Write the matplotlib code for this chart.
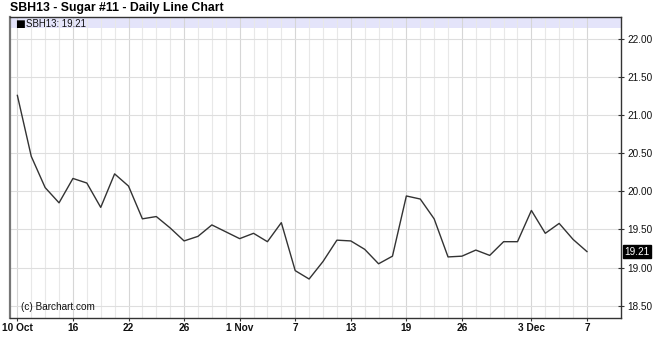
import matplotlib
matplotlib.use("Agg")
import matplotlib.pyplot as plt
import numpy as np

plt.rcParams['font.family'] = ['Liberation Sans', 'DejaVu Sans']

# ---- data ----
dates = ["2012-10-10", "2012-10-11", "2012-10-12", "2012-10-15", "2012-10-16",
         "2012-10-17", "2012-10-18", "2012-10-19", "2012-10-22", "2012-10-23",
         "2012-10-24", "2012-10-25", "2012-10-26", "2012-10-29", "2012-10-30",
         "2012-10-31", "2012-11-01", "2012-11-02", "2012-11-05", "2012-11-06",
         "2012-11-07", "2012-11-08", "2012-11-09", "2012-11-12", "2012-11-13",
         "2012-11-14", "2012-11-15", "2012-11-16", "2012-11-19", "2012-11-20",
         "2012-11-21", "2012-11-23", "2012-11-26", "2012-11-27", "2012-11-28",
         "2012-11-29", "2012-11-30", "2012-12-03", "2012-12-04", "2012-12-05",
         "2012-12-06", "2012-12-07"]
close = [21.26, 20.46, 20.05, 19.85, 20.17, 20.11, 19.79, 20.23, 20.07, 19.64,
         19.67, 19.52, 19.35, 19.41, 19.56, 19.47, 19.38, 19.45, 19.34, 19.59,
         18.96, 18.85, 19.08, 19.36, 19.35, 19.24, 19.05, 19.15, 19.94, 19.90,
         19.64, 19.14, 19.15, 19.23, 19.16, 19.34, 19.34, 19.75, 19.45, 19.58,
         19.37, 19.21]
tick_dates = ["2012-10-10", "2012-10-16", "2012-10-22", "2012-10-26", "2012-11-01",
              "2012-11-07", "2012-11-13", "2012-11-19", "2012-11-26", "2012-12-03",
              "2012-12-07"]
tick_labels = ["10 Oct", "16", "22", "26", "1 Nov", "7", "13", "19", "26", "3 Dec", "7"]
y_ticks = [18.5, 19.0, 19.5, 20.0, 20.5, 21.0, 21.5, 22.0]
symbol = "SBH13"
title = "SBH13 - Sugar #11 - Daily Line Chart"

# ---- figure ----
W, H = 661, 353
fig = plt.figure(figsize=(W / 100, H / 100), dpi=100)
ax = fig.add_axes([10 / W, 1 - 317.5 / H, (621 - 10) / W, (317.5 - 17) / H])

x = np.arange(len(dates))
tick_pos = [dates.index(d) for d in tick_dates]

ax.set_xlim(-0.53, 43.45)
ax.set_ylim(18.345, 22.289)

# legend band
ax.axhspan(22.15, 23, color='#e4e4fa', zorder=0.5, lw=0)

# grid
for i in x:
    c = '#d6d6d6' if i in tick_pos else '#e8e8e8'
    ax.axvline(i, color=c, lw=0.8, zorder=1)
for yv in y_ticks:
    ax.axhline(yv, color='#dedede', lw=0.8, zorder=1)

ax.plot(x, close, color='#333333', lw=1.0, zorder=3)

# axes styling
for s in ax.spines.values():
    s.set_color('#333333')
    s.set_linewidth(1.0)
ax.spines['left'].set_color('#777777')
ax.spines['left'].set_linewidth(1.6)

ax.yaxis.tick_right()
ax.set_yticks(y_ticks)
ax.set_yticklabels([f"{v:.2f}" for v in y_ticks], fontsize=7.2, color='#111111')
ax.tick_params(axis='y', direction='inout', length=5, width=0.8, pad=2, color='#333333')

ax.set_xticks(tick_pos)
ax.set_xticklabels(tick_labels, fontsize=7.3, fontweight='bold', color='#111111')
ax.tick_params(axis='x', direction='out', length=2.5, width=0.8, pad=1.5, color='#333333')

# last value marker
last = close[-1]
ax.text(1.006, (last - 18.345) / (22.289 - 18.345), f"{last:.2f}", transform=ax.transAxes,
        fontsize=7.2, color='white', va='center', ha='left',
        bbox=dict(boxstyle='square,pad=0.12', facecolor='black', edgecolor='black'))

# legend text in band
ax.text(15 / W * W, 0, "", transform=None)
fig.text(15 / W, 1 - 23.7 / H, "\u25A0", fontsize=7.5, va='center', ha='left',
         color='black', family=['DejaVu Sans'])
fig.text(26 / W, 1 - 23.7 / H, f"{symbol}: {last:.2f}", fontsize=6.9, va='center', ha='left',
         color='#111111')

# watermark
fig.text(21 / W, 1 - 306.7 / H, "(c) Barchart.com", fontsize=7.2, va='center', ha='left',
         color='#111111')

# title
fig.text(10 / W, 1 - 7.5 / H, title, fontsize=8.8, fontweight='bold', va='center', ha='left',
         color='black')

fig.savefig("out.png", dpi=100)
